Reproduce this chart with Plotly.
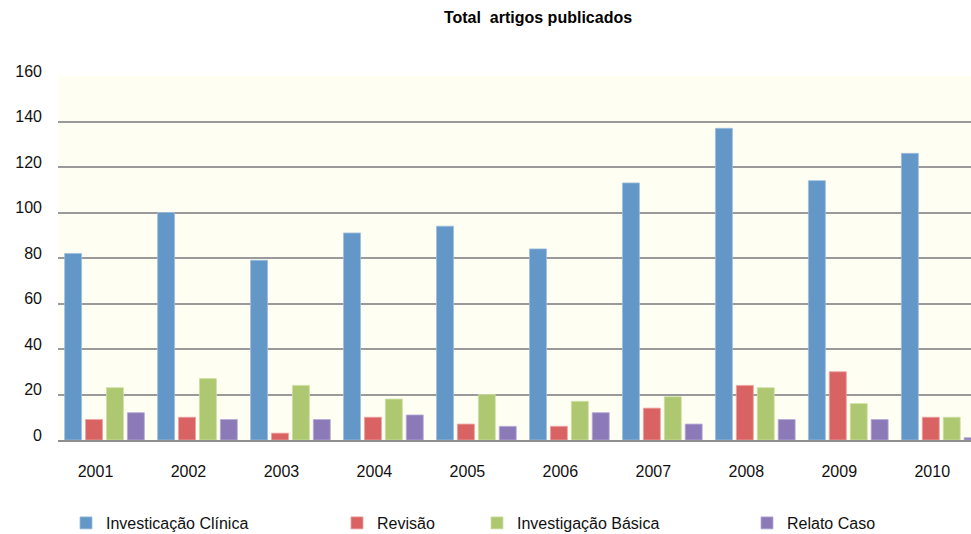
import plotly.graph_objects as go

years = ["2001", "2002", "2003", "2004", "2005", "2006", "2007", "2008", "2009", "2010"]
clinica = [82, 100, 79, 91, 94, 84, 113, 137, 114, 126]
revisao = [9, 10, 3, 10, 7, 6, 14, 24, 30, 10]
basica = [23, 27, 24, 18, 20, 17, 19, 23, 16, 10]
relato = [12, 9, 9, 11, 6, 12, 7, 9, 9, 1]

names = ["Investicação Clínica", "Revisão", "Investigação Básica", "Relato Caso"]
colors = ["#6397C7", "#D96363", "#ADC870", "#8C7AB8"]
edges = ["#9DBEDD", "#EDA0A0", "#CDE0A4", "#B5A9D6"]
series = [clinica, revisao, basica, relato]
legend_ids = ["legend", "legend2", "legend3", "legend4"]
legend_text_x = [106, 377, 517, 787]

FONT = "Liberation Sans, Arial, Helvetica, sans-serif"

fig = go.Figure()
for name, vals, col, edge, lid in zip(names, series, colors, edges, legend_ids):
    fig.add_trace(go.Bar(
        x=years, y=vals, name=name,
        marker=dict(color=col, line=dict(color=edge, width=0.8)),
        legend=lid, showlegend=True,
    ))

layout_legends = {}
for lid, lx in zip(legend_ids, legend_text_x):
    layout_legends[lid] = dict(
        x=(lx - 40) / 971, xref="container", xanchor="left",
        y=1 - 523 / 534, yref="container", yanchor="middle",
        bgcolor="rgba(0,0,0,0)", borderwidth=0,
        font=dict(family=FONT, size=16, color="#111111"),
        orientation="h",
    )

fig.update_layout(
    width=971, height=534,
    margin=dict(l=58, r=0, t=76, b=94, autoexpand=False),
    showlegend=True,
    paper_bgcolor="white",
    plot_bgcolor="#FEFEF2",
    barmode="group",
    bargap=0.10,
    bargroupgap=0.19,
    title=dict(
        text="<b>Total  artigos publicados</b>",
        x=538 / 971, xref="container", xanchor="center",
        y=1 - 17 / 534, yref="container", yanchor="middle",
        font=dict(family=FONT, size=16, color="#000000"),
    ),
    xaxis=dict(
        type="category",
        range=[-0.5, 9.32],
        showgrid=False,
        showline=True, linecolor="#8E8E8E", linewidth=1.5,
        ticks="",
        tickfont=dict(family=FONT, size=16, color="#111111"),
        ticklabelshift=-9,
        ticklabelstandoff=16,
    ),
    yaxis=dict(
        range=[0, 160],
        tickvals=[0, 20, 40, 60, 80, 100, 120, 140, 160],
        showgrid=True, gridcolor="#9A9A9A", gridwidth=1.5,
        zeroline=False,
        showline=False,
        ticks="",
        tickfont=dict(family=FONT, size=16, color="#111111"),
        ticklabelstandoff=15,
        ticklabelshift=-5,
    ),
    **layout_legends,
)

fig.write_html(
    "out.html",
    config={"displayModeBar": False},
    post_script="document.body.style.margin='0';document.body.style.overflow='hidden';",
)
